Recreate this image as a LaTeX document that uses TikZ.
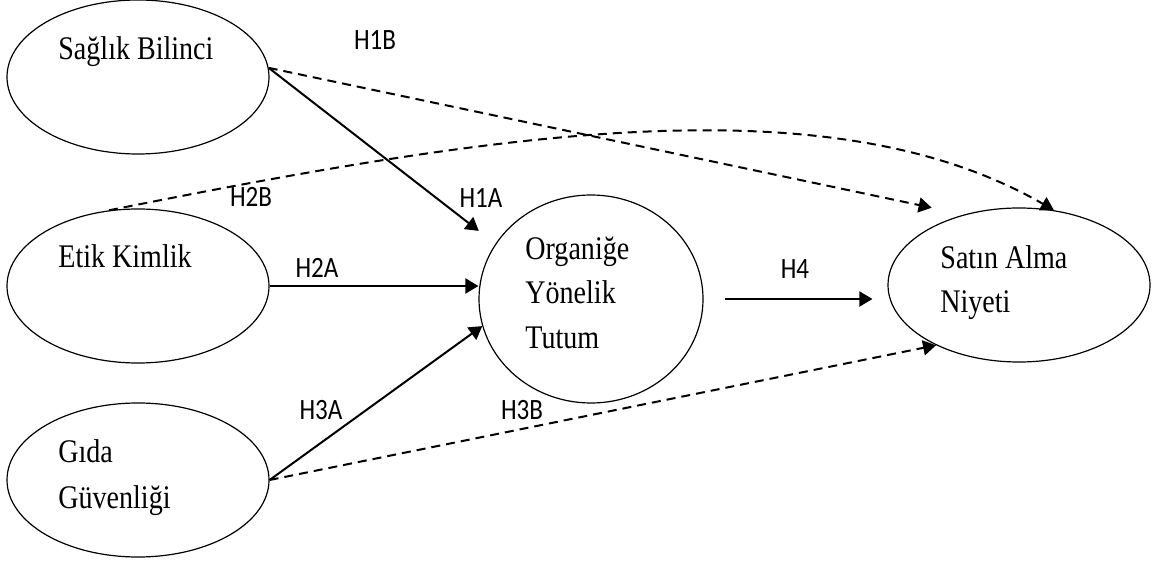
\documentclass[tikz,border=0pt]{standalone}
\usepackage{fontspec}
\newfontfamily\trserif[FakeStretch=0.85]{Liberation Serif}
\newfontfamily\trsans[FakeStretch=0.85]{Carlito}
\usetikzlibrary{arrows.meta, positioning, shapes.geometric}

\begin{document}
\begin{tikzpicture}[
    x=0.5pt, y=0.5pt,
    construct/.style={draw, ellipse, line width=0.6pt, inner sep=0pt,
                      minimum width=131pt, minimum height=77pt},
    cname/.style={font=\trserif\fontsize{16.5pt}{22pt}\selectfont,
                  inner sep=0pt, anchor=base west, align=left},
    hyp/.style={font=\trsans\fontsize{14.75pt}{18pt}\selectfont, inner sep=0pt},
    direct/.style={line width=1pt, -{Triangle[length=6.5pt, width=7.5pt]}},
    indirect/.style={direct, dash pattern=on 4.5pt off 3pt},
  ]
  \useasboundingbox (0,0) rectangle (1160,562);

  % constructs
  \node[construct] (sb) at (138, 485) {};
  \node[construct] (ek) at (138, 276) {};
  \node[construct] (gg) at (138, 82) {};
  \node[construct, minimum width=112pt, minimum height=104pt] (oyt) at (591, 263) {};
  \node[construct] (sa) at (1019, 277) {};

  % names (base = last line)
  \node[cname] (sb-txt) at (58, 502) {Sağlık Bilinci};
  \node[cname] (ek-txt) at (58, 294) {Etik Kimlik};
  \node[cname] (gg-txt) at (58, 54) {Gıda\\[1pt]Güvenliği};
  \node[cname] (oyt-txt) at (525, 214) {Organiğe\\Yönelik\\Tutum};
  \node[cname] (sa-txt) at (940, 249) {Satın Alma\\Niyeti};

  % hypotheses
  \draw[direct, shorten >=10.5pt] (sb.4) -- (oyt.150);
  \draw[indirect, shorten >=16.5pt] (sb.4) -- (sa.128);
  \draw[indirect] (ek.111) .. controls (487, 427) and (826, 483) .. (sa.65);
  \draw[direct] (ek.east) -- (ek.east -| oyt.west);
  \draw[direct] (gg.east) -- (oyt.194);
  \draw[indirect] (gg.east) -- (sa.216);
  \draw[direct, shorten <=10.5pt, shorten >=7.5pt] (oyt.east) -- (oyt.east -| sa.west);

  \node[hyp] (h1b) at (375, 522) {H1B};
  \node[hyp] (h1a) at (481, 364) {H1A};
  \node[hyp] (h2b) at (251, 365) {H2B};
  \node[hyp] (h2a) at (317, 294) {H2A};
  \node[hyp] (h3a) at (321, 152) {H3A};
  \node[hyp] (h3b) at (522, 152) {H3B};
  \node[hyp] (h4)  at (795, 293) {H4};
\end{tikzpicture}
\end{document}
